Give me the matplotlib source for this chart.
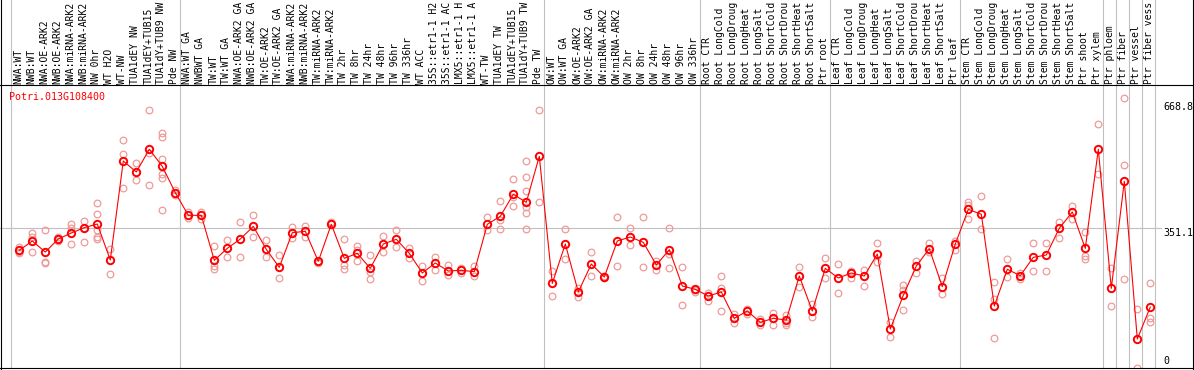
import numpy as np
import matplotlib
matplotlib.use('Agg')
import matplotlib.pyplot as plt
import matplotlib.transforms as mtransforms
from matplotlib.lines import Line2D


GENE = 'Potri.013G108400'

# sample names as far as they are shown in the header
SAMPLES = [
    'NWA:WT', 'NWB:WT', 'NWA:OE-ARK2', 'NWB:OE-ARK2', 'NWA:miRNA-ARK2',
    'NWB:miRNA-ARK2', 'NW 0hr', 'WT H2O', 'WT-NW', 'TUA1dEY NW',
    'TUA1dEY+TUB15', 'TUA1dY+TUB9 NW', 'Pde NW',
    'NWA:WT GA', 'NWBWT GA', 'TW:WT', 'TW:WT GA', 'NWA:OE-ARK2 GA',
    'NWB:OE-ARK2 GA', 'TW:OE-ARK2', 'TW:OE-ARK2 GA', 'NWA:miRNA-ARK2',
    'NWB:miRNA-ARK2', 'TW:miRNA-ARK2', 'TW:miRNA-ARK2', 'TW 2hr',
    'TW 8hr', 'TW 24hr', 'TW 48hr', 'TW 96hr', 'TW 336hr', 'WT ACC',
    '35S::etr1-1 H2', '35S::etr1-1 AC', 'LMX5::etr1-1 H',
    'LMX5::etr1-1 A', 'WT-TW', 'TUA1dEY TW', 'TUA1dEY+TUB15',
    'TUA1dY+TUB9 TW', 'Pde TW',
    'OW:WT', 'OW:WT GA', 'OW:OE-ARK2', 'OW:OE-ARK2 GA', 'OW:miRNA-ARK2',
    'OW:miRNA-ARK2', 'OW 2hr', 'OW 8hr', 'OW 24hr', 'OW 48hr', 'OW 96hr',
    'OW 336hr',
    'Root CTR', 'Root LongCold', 'Root LongDroug', 'Root LongHeat',
    'Root LongSalt', 'Root ShortCold', 'Root ShortDrou', 'Root ShortHeat',
    'Root ShortSalt', 'Ptr root',
    'Leaf CTR', 'Leaf LongCold', 'Leaf LongDroug', 'Leaf LongHeat',
    'Leaf LongSalt', 'Leaf ShortCold', 'Leaf ShortDrou', 'Leaf ShortHeat',
    'Leaf ShortSalt', 'Ptr leaf',
    'Stem CTR', 'Stem LongCold', 'Stem LongDroug', 'Stem LongHeat',
    'Stem LongSalt', 'Stem ShortCold', 'Stem ShortDrou', 'Stem ShortHeat',
    'Stem ShortSalt', 'Ptr shoot', 'Ptr xylem',
    'Ptr phloem', 'Ptr fiber', 'Ptr vessel', 'Ptr fiber vess',
]

# samples per block, blocks are separated by gray lines
GROUP_SIZES = [13, 28, 12, 10, 10, 11, 1, 1, 1, 1]

MEANS = [
    295.7, 319.2, 291.5, 324.2, 339.3, 352.7, 361.9, 271.4, 520.2, 492.6,
    549.6, 506.8, 440.6, 383.7, 383.7, 270.6, 300.7, 324.2, 356.0, 298.2,
    253.0, 340.1, 343.5, 268.1, 361.1, 275.6, 288.2, 250.5, 311.6, 323.4,
    288.2, 238.8, 263.9, 243.8, 245.5, 242.1, 361.1, 381.2, 436.5, 416.3,
    532.0, 212.8, 311.6, 191.0, 261.4, 228.7, 319.2, 329.2, 315.8, 258.9,
    297.4, 206.1, 197.7, 181.0, 191.0, 124.8, 143.3, 114.8, 124.8, 120.6,
    231.2, 143.3, 250.5, 226.2, 238.8, 231.2, 286.5, 98.0, 182.6, 256.3,
    299.9, 204.4, 311.6, 398.8, 386.2, 155.8, 248.0, 232.1, 278.1, 284.0,
    351.0, 392.1, 300.7, 549.6, 200.2, 469.1, 72.9, 153.3,
]

REPLICATES = [
    [304.9, 290.7, 288.2], [338.4, 330.1, 290.7], [346.8, 267.2, 263.0],
    [330.1, 320.0, 324.2], [361.9, 351.0, 311.6], [369.4, 352.7, 316.0],
    [413.8, 386.2, 346.8, 330.1, 324.2], [299.1, 235.4],
    [572.2, 537.0, 451.5], [514.4, 472.5], [647.6, 541.2, 459.1],
    [591.4, 579.7, 524.4, 486.7, 478.3, 397.1], [447.4, 434.8],
    [392.1, 376.1], [392.1, 373.6], [306.6, 256.3, 248.8], [320.9, 279.8],
    [366.1, 279.8], [383.7, 328.4], [321.7, 279.8], [284.0, 225.3],
    [353.5, 325.9], [357.7, 328.4], [269.7, 264.7], [366.9, 363.6],
    [324.2, 258.9, 248.0], [306.6, 296.6, 268.1], [284.0, 242.1, 222.8],
    [331.7, 290.7], [346.8, 303.3], [301.6, 275.6], [256.3, 219.5],
    [279.8, 245.5], [259.7, 232.9], [252.2, 239.6], [256.3, 231.2],
    [379.5, 346.8], [418.9, 372.0, 350.2], [474.2, 430.6, 408.0],
    [519.4, 480.8, 444.8, 405.5, 388.7, 348.5], [647.6, 416.3],
    [242.9, 181.0], [348.5, 273.9], [201.9, 177.6], [290.7, 231.2],
    [231.2, 225.3], [378.6, 256.3], [352.7, 308.3], [378.6, 253.0],
    [269.7, 246.3], [351.0, 286.5, 250.5], [253.0, 157.5], [196.0, 191.0],
    [189.3, 169.2], [231.2, 201.1, 142.4], [135.7, 113.9], [149.1, 135.7],
    [122.3, 108.9], [139.1, 107.2], [132.4, 112.3, 107.2], [253.0, 202.7],
    [160.8, 129.0], [275.6, 225.3], [260.5, 188.5], [244.6, 225.3],
    [246.3, 206.1], [313.3, 267.2], [116.4, 78.7], [208.6, 196.0, 145.8],
    [268.9, 239.6], [313.3, 290.7], [225.3, 186.0], [320.0, 296.6],
    [418.0, 409.6, 373.6], [431.4, 348.5], [215.3, 172.6, 74.6],
    [273.9, 229.5], [239.6, 222.8], [313.3, 242.9], [313.3, 242.9],
    [366.1, 325.9], [407.1, 373.6], [342.6, 281.5, 273.1], [613.2, 487.6],
    [252.2, 155.8], [677.7, 509.3, 222.8], [148.3, 0.0],
    [213.6, 124.8, 114.8],
]

RIGHT_LABELS = ['0', '351.1', '668.8']
RIGHT_VALUES = [0, 351.1, 668.8]
MID_LINE = 351.1

FONT = dict(family='DejaVu Sans Mono', fontsize=7.2)
HEAD_FONT = dict(family='DejaVu Sans Mono', fontsize=7.05)
GRAY = '#c0c0c0'

W, H = 1194, 370
PLOT_TOP, PLOT_BOTTOM = 85, 368   # pixel rows of the plot area
X0, STEP = 19.3, 13.0             # pixel of first column, column width
PX_PER_UNIT = 0.3979


fig = plt.figure(figsize=(W / 100, H / 100), dpi=100)
fig.patch.set_facecolor('white')

plot_h = PLOT_BOTTOM - PLOT_TOP
ax = fig.add_axes([0, (H - PLOT_BOTTOM) / H, 1, plot_h / H])
ax.set_xlim(-X0 / STEP, (W - X0) / STEP)
ax.set_ylim(0, plot_h / PX_PER_UNIT)
ax.set_xticks([])
ax.set_yticks([])
for side in ('left', 'right'):
    ax.spines[side].set_visible(False)
for side in ('top', 'bottom'):
    ax.spines[side].set_color('black')
    ax.spines[side].set_linewidth(0.8)

# full-height black borders left and right
for xf in (1.2 / W, (W - 1.2) / W):
    fig.add_artist(Line2D([xf, xf], [0, 1], transform=fig.transFigure,
                          color='black', linewidth=0.8))

x = np.arange(len(SAMPLES))
top_axes = PLOT_BOTTOM / plot_h

# group separators run through the header as well
bounds = np.cumsum([0] + GROUP_SIZES) - 0.615
for b in bounds:
    ax.axvline(b, 0, top_axes, color=GRAY, linewidth=0.8, clip_on=False,
               zorder=0)

ax.axhline(MID_LINE, 0, 1161 / W, color=GRAY, linewidth=0.8, zorder=0)

# replicate values
rep_x = np.concatenate([[i] * len(r) for i, r in enumerate(REPLICATES)])
rep_y = np.concatenate(REPLICATES)
ax.plot(rep_x, rep_y, linestyle='none', marker='o', markersize=4.8,
        markerfacecolor='none', markeredgecolor='#f09a9a',
        markeredgewidth=0.9, zorder=2)

# mean values
ax.plot(x, MEANS, color='red', linewidth=0.8, marker='o', markersize=5.3,
        markerfacecolor='none', markeredgecolor='red', markeredgewidth=1.4,
        zorder=3)

# sample names in the header
trans = mtransforms.blended_transform_factory(ax.transData, ax.transAxes)
for i, name in enumerate(SAMPLES):
    ax.text(i - 0.08, 1 + 1 / plot_h, name, rotation=90, ha='center',
            va='bottom', transform=trans, clip_on=False, color='black',
            **HEAD_FONT)

ax.text(9.3 / W, (PLOT_BOTTOM - 96.7) / plot_h, GENE, transform=ax.transAxes,
        ha='left', va='center', color='red', **FONT)

# value labels on the right
right_x = (1163 - X0) / STEP
for lab, val in zip(RIGHT_LABELS, RIGHT_VALUES):
    if val == 0:
        t = mtransforms.offset_copy(ax.transData, fig=fig, y=2, units='dots')
        ax.text(right_x, val, lab, ha='left', va='bottom', transform=t,
                color='black', **FONT)
    else:
        ax.text(right_x, val, lab, ha='left', va='top', color='black',
                **FONT)

fig.savefig('out.png', dpi=100, facecolor='white')
